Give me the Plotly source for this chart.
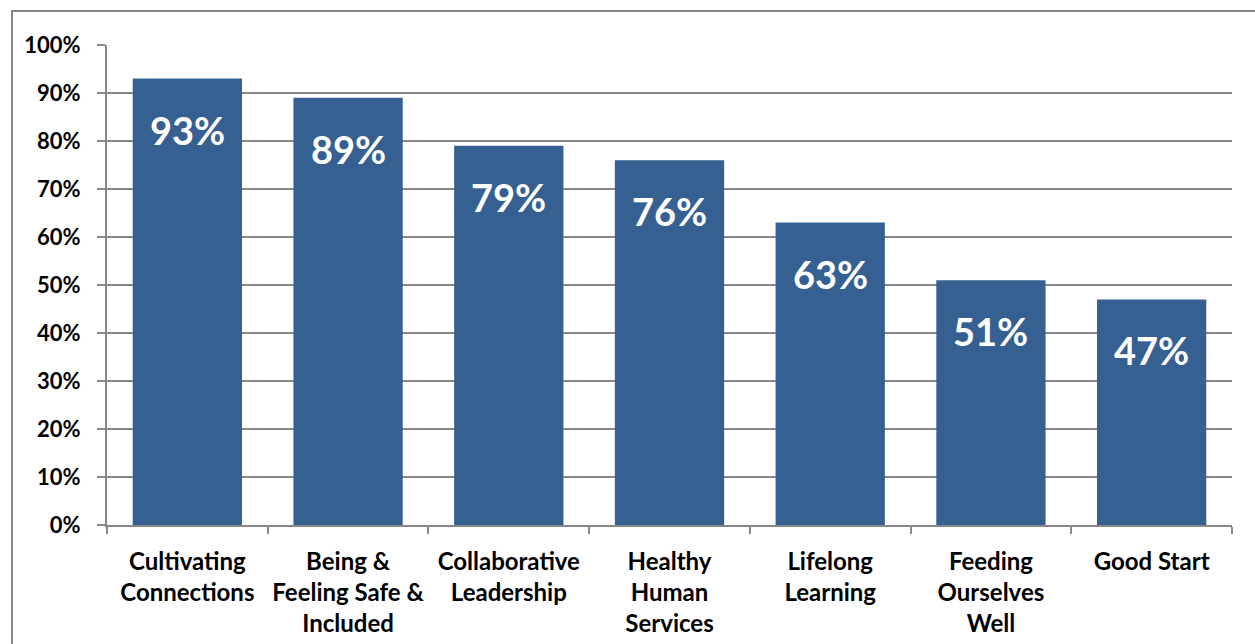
import plotly.graph_objects as go

categories = [
    "Cultivating<br>Connections",
    "Being &<br>Feeling Safe &<br>Included",
    "Collaborative<br>Leadership",
    "Healthy<br>Human<br>Services",
    "Lifelong<br>Learning",
    "Feeding<br>Ourselves<br>Well",
    "Good Start",
]
values = [0.93, 0.89, 0.79, 0.76, 0.63, 0.51, 0.47]
y_ticks = [i / 10 for i in range(11)]

BAR = "#376092"
GRID = "#878787"
FONT = "Lato, Carlito, Calibri, sans-serif"

W, H = 1255, 644
L, R, T, B = 107, 23, 45, 119

fig = go.Figure(
    go.Bar(
        x=categories, y=values,
        marker=dict(color=BAR, line=dict(width=0)),
        width=0.68,
    )
)

# value labels sitting inside the top of each bar
for c, v in zip(categories, values):
    fig.add_annotation(
        x=c, y=v, yshift=-51, yanchor="middle",
        text=f"{round(v * 100)}%", showarrow=False,
        font=dict(family=FONT, size=38, color="white", weight="bold"),
    )

# outer frame (runs off right and bottom edges)
pw, ph = W - L - R, H - T - B
fig.add_shape(
    type="rect", xref="paper", yref="paper",
    x0=(12 - L) / pw, x1=(W + 10 - L) / pw,
    y0=-(H + 10 - T - ph) / ph, y1=(H - 11 - B) / ph,
    line=dict(color=GRID, width=2), fillcolor="rgba(0,0,0,0)", layer="below",
)

fig.update_layout(
    width=W, height=H,
    margin=dict(l=L, r=R, t=T, b=B),
    paper_bgcolor="white", plot_bgcolor="white",
    showlegend=False,
    font=dict(family=FONT, color="black"),
)
fig.update_yaxes(
    range=[0, 1], tickvals=y_ticks, tickformat=".0%",
    showgrid=True, gridcolor=GRID, gridwidth=2,
    showline=True, linecolor=GRID, linewidth=2,
    ticks="outside", ticklen=8, tickcolor=GRID, tickwidth=2,
    ticklabelstandoff=12, automargin=False,
    tickfont=dict(family=FONT, size=22, weight="bold"),
    zeroline=False,
)
fig.update_xaxes(
    showline=True, linecolor=GRID, linewidth=2,
    ticks="outside", ticklen=7, tickcolor=GRID, tickwidth=2,
    tickson="boundaries", tickangle=0, automargin=False,
    tickfont=dict(family=FONT, size=24, weight="bold"),
    ticklabelstandoff=14,
)

# drop the browser's default body margin so the figure sits at the page corner
fig.write_html(
    "out.html",
    config={"displayModeBar": False},
    post_script="document.body.style.margin='0';",
)
